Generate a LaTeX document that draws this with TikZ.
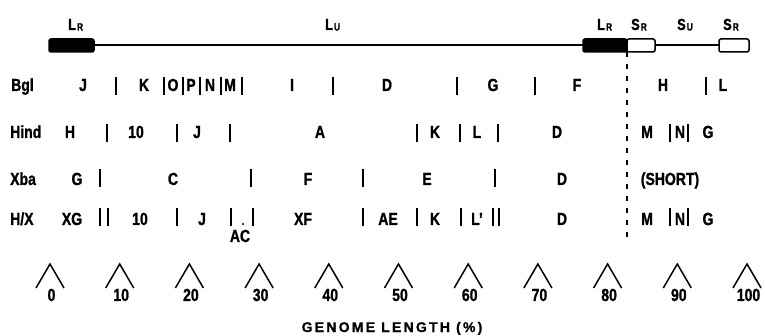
\documentclass[tikz,border=0pt]{standalone}
\usepackage{fontspec}
\setmainfont{Liberation Sans}[FakeStretch=0.8, FakeBold=1.2]
\newfontfamily\spacedfont{Liberation Sans}[LetterSpace=16, FakeBold=1]
\newcommand\regsub[2]{#1\hspace{1pt}\raisebox{-0.5pt}{\fontsize{10.5}{12}\selectfont #2}}
\begin{document}
\begin{tikzpicture}[x=1pt,y=-1pt,
  lbl/.style={font=\fontsize{17.5}{19}\selectfont\bfseries, inner sep=0pt, anchor=base},
  rowname/.style={lbl, anchor=base west},
  toplbl/.style={font=\fontsize{16}{18}\selectfont\bfseries, inner sep=0pt, anchor=base west},
  cut/.style={line width=2.3pt},
  dna/.style={line width=1.8pt},
  rep/.style={line width=1.5pt, rounded corners=2pt},
  pct/.style={line width=1.5pt, line join=miter},
  border/.style={line width=1.3pt, dash pattern=on 5pt off 7pt},
]
\useasboundingbox (0,0) rectangle (765,336);

% genome: long and short segments with repeats
\coordinate (gL) at (94,45);
\coordinate (gR) at (583,45);
\coordinate (sL) at (655,45);
\coordinate (sR) at (719,45);
\draw[dna] (gL) -- (gR);
\draw[dna] (sL) -- (sR);
\filldraw[rep] (49,39) rectangle (94,52);
\filldraw[rep] (583,39) rectangle (627,52);
\draw[rep, fill=white] (627,39) rectangle (655,52);
\draw[rep, fill=white] (719,39) rectangle (749,52);

\node[toplbl] (lr1) at (68,30) {\regsub{L}{R}};
\node[toplbl] (lu)  at (325,30) {\regsub{L}{U}};
\node[toplbl] (lr2) at (597,30) {\regsub{L}{R}};
\node[toplbl] (sr1) at (631,30) {\regsub{S}{R}};
\node[toplbl] (su)  at (677,30) {\regsub{S}{U}};
\node[toplbl] (sr2) at (723,30) {\regsub{S}{R}};

% L/S junction
\coordinate (jTop) at (627,52);
\coordinate (jBot) at (627,242);
\draw[border] (jTop) -- (jBot);

% row names
\node[rowname] (nBgl)  at (11,91)  {Bgl};
\node[rowname] (nHind) at (10,138) {Hind};
\node[rowname] (nXba)  at (10,185) {Xba};
\node[rowname] (nHX)   at (10,225) {H/X};

% Bgl II
\foreach \x/\t [count=\k] in {83/J,144/K,173/O,191/P,210/N,230/M,292/I,387/D,493/G,577/F,663/H,723/L}
  \node[lbl] (bgl\k) at (\x,91) {\t};
\foreach \x in {116,164,183,200,221,242,333,457,535,706}
  \draw[cut] (\x,77) -- (\x,95);

% Hind III
\foreach \x/\t [count=\k] in {70/H,136/10,197/J,320/A,435/K,477/L,557/D,647/M,680/N,708/G}
  \node[lbl] (hin\k) at (\x,138) {\t};
\foreach \x in {107,177,230,417,460,498,670,688}
  \draw[cut] (\x,124) -- (\x,142);

% Xba I
\foreach \x/\t [count=\k] in {77/G,173/C,308/F,427/E,562/D,670/(SHORT)}
  \node[lbl] (xba\k) at (\x,185) {\t};
\foreach \x in {100,251,363,495}
  \draw[cut] (\x,169) -- (\x,187);

% Hind III / Xba I double digest
\foreach \x/\t [count=\k] in {72/XG,140/10,202/J,303/XF,388/AE,435/K,477/L',562/D,647/M,680/N,708/G}
  \node[lbl] (hx\k) at (\x,225) {\t};
\foreach \x in {100,108,177,231,253,363,417,461,493,499,670,688}
  \draw[cut] (\x,208) -- (\x,226);
\fill (243,224) circle (1.1pt);
\node[lbl] (hxAC) at (240,242) {AC};

% percentage scale
\foreach \p [count=\k] in {0,10,...,100} {
  \pgfmathsetmacro\cx{50+6.97*\p}
  \draw[pct] (\cx-14,288) -- (\cx,264) -- (\cx+14,288);
  \node[lbl] (pct\k) at (\cx+1.5,301) {\p};
}
\node[font=\spacedfont\fontsize{14}{16}\selectfont\bfseries, inner sep=0pt, anchor=base] (title) at (392,332) {GENOME LENGTH (\%)};
\end{tikzpicture}
\end{document}
